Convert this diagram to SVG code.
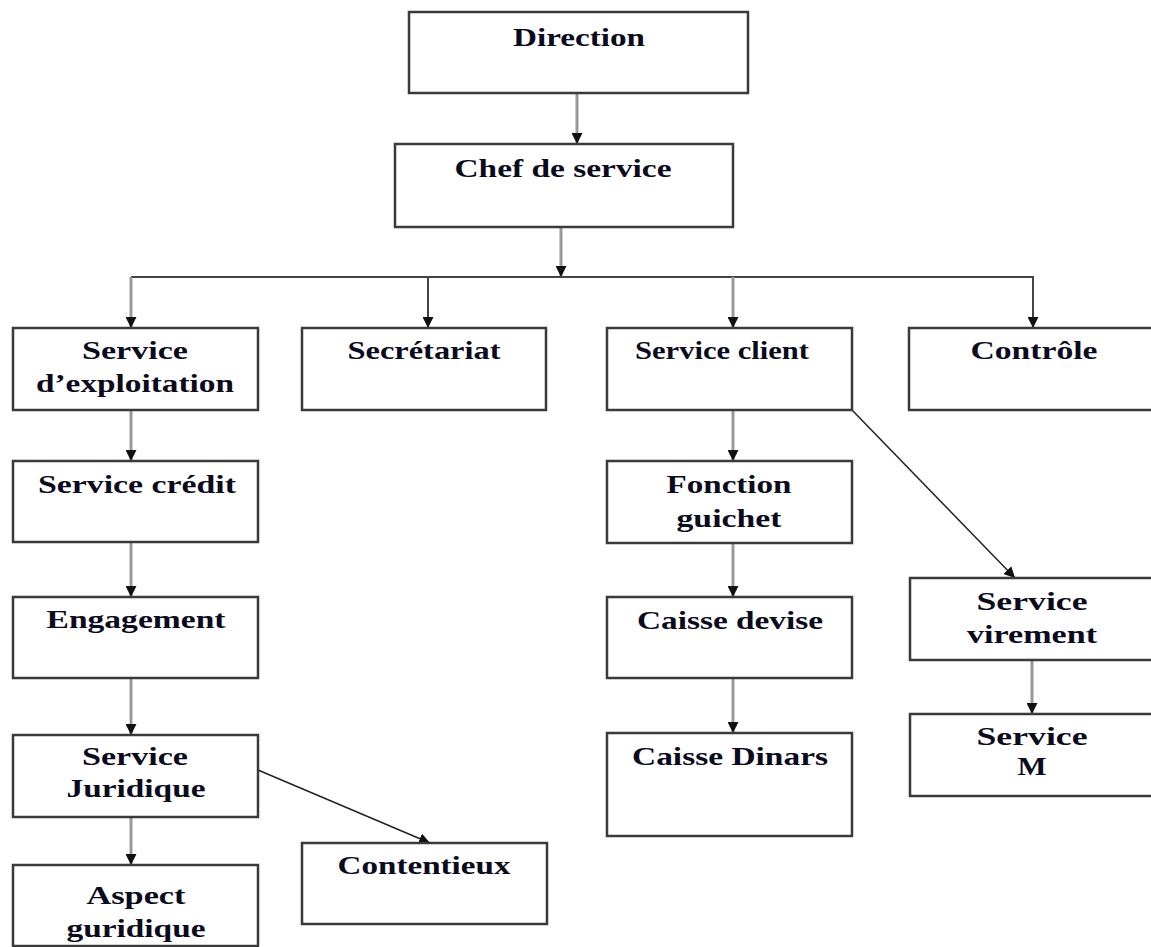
<svg xmlns="http://www.w3.org/2000/svg" width="1151" height="947" viewBox="0 0 1151 947">
<defs>
<style>
.box{fill:#fff;stroke:#3a3a3a;stroke-width:2.5}
.t{font-family:"Liberation Serif","Times New Roman",serif;font-weight:bold;font-size:26px;fill:#0b0b1e;text-anchor:middle}
.v{stroke:#999;stroke-width:3;fill:none}
.d{stroke:#222;stroke-width:1.5;fill:none}
.k{stroke:#444;stroke-width:2;fill:none}
</style>
<marker id="ah" viewBox="0 0 10 10" refX="10" refY="5" markerWidth="11" markerHeight="11" markerUnits="userSpaceOnUse" orient="auto">
<path d="M0,0 L10,5 L0,10 z" fill="#111"/>
</marker>
</defs>
<g id="connectors">
<line class="v" x1="577" y1="93" x2="577" y2="144" marker-end="url(#ah)"/>
<line class="v" x1="561" y1="227" x2="561" y2="277" marker-end="url(#ah)"/>
<polyline class="k" points="131,277 1033,277 1033,328"/>
<line class="v" x1="131" y1="277" x2="131" y2="328" marker-end="url(#ah)"/>
<line class="k" x1="428" y1="277" x2="428" y2="328" marker-end="url(#ah)"/>
<line class="v" x1="733" y1="277" x2="733" y2="328" marker-end="url(#ah)"/>
<line class="k" x1="1033" y1="300" x2="1033" y2="328" marker-end="url(#ah)"/>
<line class="v" x1="131" y1="410" x2="131" y2="461" marker-end="url(#ah)"/>
<line class="v" x1="131" y1="542" x2="131" y2="597" marker-end="url(#ah)"/>
<line class="v" x1="131" y1="678" x2="131" y2="735" marker-end="url(#ah)"/>
<line class="v" x1="131" y1="817" x2="131" y2="865" marker-end="url(#ah)"/>
<line class="d" x1="258" y1="770" x2="430" y2="843" marker-end="url(#ah)"/>
<line class="v" x1="733" y1="410" x2="733" y2="461" marker-end="url(#ah)"/>
<line class="v" x1="733" y1="543" x2="733" y2="597" marker-end="url(#ah)"/>
<line class="v" x1="733" y1="678" x2="733" y2="733" marker-end="url(#ah)"/>
<line class="d" x1="852" y1="410" x2="1015" y2="578" marker-end="url(#ah)"/>
<line class="v" x1="1032" y1="660" x2="1032" y2="714" marker-end="url(#ah)"/>
</g>
<g id="direction"><rect class="box" x="409" y="12" width="339" height="81"/><text class="t" x="579" y="46" textLength="132" lengthAdjust="spacingAndGlyphs">Direction</text></g>
<g id="chef"><rect class="box" x="395" y="144" width="338" height="83"/><text class="t" x="563" y="177" textLength="217" lengthAdjust="spacingAndGlyphs">Chef de service</text></g>
<g id="exploitation"><rect class="box" x="13" y="328" width="245" height="82"/><text class="t" x="135" y="359" textLength="106" lengthAdjust="spacingAndGlyphs">Service</text><text class="t" x="135" y="392" textLength="198" lengthAdjust="spacingAndGlyphs">d’exploitation</text></g>
<g id="secretariat"><rect class="box" x="302" y="328" width="244" height="82"/><text class="t" x="424" y="359" textLength="153" lengthAdjust="spacingAndGlyphs">Secrétariat</text></g>
<g id="client"><rect class="box" x="607" y="328" width="245" height="82"/><text class="t" x="722" y="359" textLength="174" lengthAdjust="spacingAndGlyphs">Service client</text></g>
<g id="controle"><rect class="box" x="909" y="328" width="250" height="82"/><text class="t" x="1034" y="359" textLength="127" lengthAdjust="spacingAndGlyphs">Contrôle</text></g>
<g id="credit"><rect class="box" x="13" y="461" width="245" height="81"/><text class="t" x="137" y="493" textLength="198" lengthAdjust="spacingAndGlyphs">Service crédit</text></g>
<g id="engagement"><rect class="box" x="13" y="597" width="245" height="81"/><text class="t" x="136" y="628" textLength="179" lengthAdjust="spacingAndGlyphs">Engagement</text></g>
<g id="juridique"><rect class="box" x="13" y="735" width="245" height="82"/><text class="t" x="135" y="765" textLength="106" lengthAdjust="spacingAndGlyphs">Service</text><text class="t" x="136" y="797" textLength="139" lengthAdjust="spacingAndGlyphs">Juridique</text></g>
<g id="aspect"><rect class="box" x="13" y="865" width="245" height="81"/><text class="t" x="136" y="904" textLength="99" lengthAdjust="spacingAndGlyphs">Aspect</text><text class="t" x="136" y="937" textLength="139" lengthAdjust="spacingAndGlyphs">guridique</text></g>
<g id="contentieux"><rect class="box" x="302" y="843" width="245" height="81"/><text class="t" x="424" y="874" textLength="173" lengthAdjust="spacingAndGlyphs">Contentieux</text></g>
<g id="guichet"><rect class="box" x="607" y="461" width="245" height="82"/><text class="t" x="729" y="493" textLength="125" lengthAdjust="spacingAndGlyphs">Fonction</text><text class="t" x="729" y="527" textLength="105" lengthAdjust="spacingAndGlyphs">guichet</text></g>
<g id="devise"><rect class="box" x="607" y="597" width="245" height="81"/><text class="t" x="730" y="629" textLength="186" lengthAdjust="spacingAndGlyphs">Caisse devise</text></g>
<g id="dinars"><rect class="box" x="607" y="733" width="245" height="103"/><text class="t" x="730" y="765" textLength="196" lengthAdjust="spacingAndGlyphs">Caisse Dinars</text></g>
<g id="virement"><rect class="box" x="910" y="578" width="250" height="82"/><text class="t" x="1032" y="610" textLength="111" lengthAdjust="spacingAndGlyphs">Service</text><text class="t" x="1032" y="643" textLength="130" lengthAdjust="spacingAndGlyphs">virement</text></g>
<g id="servicem"><rect class="box" x="910" y="714" width="250" height="82"/><text class="t" x="1032" y="745" textLength="111" lengthAdjust="spacingAndGlyphs">Service</text><text class="t" x="1032" y="775" textLength="29" lengthAdjust="spacingAndGlyphs">M</text></g>
</svg>
